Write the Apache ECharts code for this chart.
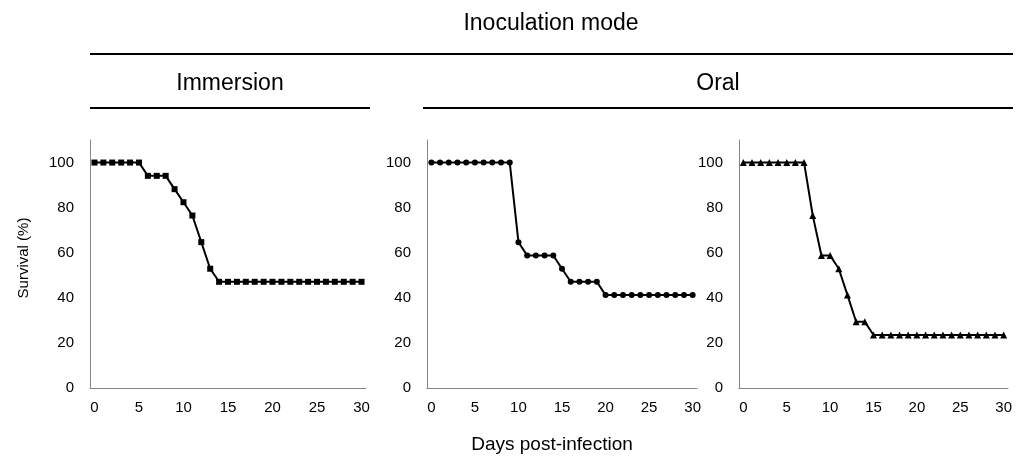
<!DOCTYPE html>
<html>
<head>
<meta charset="utf-8">
<script src="https://cdn.jsdelivr.net/npm/echarts@6/dist/echarts.min.js"></script>
<style>
html,body{margin:0;padding:0;background:#fff;}
#chart{width:1021px;height:461px;}
</style>
</head>
<body>
<div id="chart"></div>
<script>
var days=[];
for(var d=0;d<=30;d++){days.push(String(d));}
var yTicks=[0,20,40,60,80,100];

// survival (%) per day
var immersion=[100,100,100,100,100,100,94.1,94.1,94.1,88.2,82.4,76.5,64.7,52.9,47.1,47.1,47.1,47.1,47.1,47.1,47.1,47.1,47.1,47.1,47.1,47.1,47.1,47.1,47.1,47.1,47.1];
var oralA=[100,100,100,100,100,100,100,100,100,100,64.7,58.8,58.8,58.8,58.8,52.9,47.1,47.1,47.1,47.1,41.2,41.2,41.2,41.2,41.2,41.2,41.2,41.2,41.2,41.2,41.2];
var oralB=[100,100,100,100,100,100,100,100,76.5,58.8,58.8,52.9,41.2,29.4,29.4,23.5,23.5,23.5,23.5,23.5,23.5,23.5,23.5,23.5,23.5,23.5,23.5,23.5,23.5,23.5,23.5];

var fontFam='"Liberation Sans", Arial, sans-serif';
var myChart=echarts.init(document.getElementById('chart'));

var grids=[
    {left:90,top:140,width:276,height:248},
    {left:427,top:140,width:270,height:248},
    {left:739,top:140,width:269,height:248}
];

function xAx(i){
    return {
        type:'category',
        gridIndex:i,
        data:days,
        boundaryGap:true,
        axisLine:{lineStyle:{color:'#868686',width:1}},
        axisTick:{show:false},
        axisLabel:{interval:4,color:'#000',fontSize:15,fontFamily:fontFam,margin:12}
    };
}
function yAx(i){
    return {
        type:'value',
        gridIndex:i,
        min:0,
        max:110,
        interval:20,
        splitLine:{show:false},
        axisLine:{show:true,lineStyle:{color:'#868686',width:1}},
        axisTick:{show:false},
        axisLabel:{color:'#000',fontSize:15,fontFamily:fontFam,margin:16,showMaxLabel:false,
            formatter:function(v){return yTicks.indexOf(v)>=0?String(v):'';}}
    };
}
function ser(i,data,sym,size){
    return {
        type:'line',
        xAxisIndex:i,
        yAxisIndex:i,
        data:data,
        symbol:sym,
        symbolSize:size,
        showAllSymbol:true,
        lineStyle:{color:'#000',width:2},
        itemStyle:{color:'#000'},
        animation:false
    };
}

var option={
    animation:false,
    grid:grids,
    xAxis:[xAx(0),xAx(1),xAx(2)],
    yAxis:[yAx(0),yAx(1),yAx(2)],
    series:[
        ser(0,immersion,'rect',6),
        ser(1,oralA,'circle',6),
        ser(2,oralB,'triangle',7)
    ],
    graphic:[
        {type:'text',x:551,y:24,style:{text:'Inoculation mode',font:'23px '+fontFam,fill:'#000',align:'center',verticalAlign:'middle'}},
        {type:'line',shape:{x1:90,y1:54,x2:1013,y2:54},style:{stroke:'#000',lineWidth:2}},
        {type:'text',x:230,y:84,style:{text:'Immersion',font:'23px '+fontFam,fill:'#000',align:'center',verticalAlign:'middle'}},
        {type:'text',x:718,y:84,style:{text:'Oral',font:'23px '+fontFam,fill:'#000',align:'center',verticalAlign:'middle'}},
        {type:'line',shape:{x1:90,y1:108,x2:370,y2:108},style:{stroke:'#000',lineWidth:2}},
        {type:'line',shape:{x1:423,y1:108,x2:1013,y2:108},style:{stroke:'#000',lineWidth:2}},
        {type:'text',x:24,y:258,rotation:Math.PI/2,style:{text:'Survival (%)',font:'15px '+fontFam,fill:'#000',align:'center',verticalAlign:'middle'}},
        {type:'text',x:552,y:445,style:{text:'Days post-infection',font:'19px '+fontFam,fill:'#000',align:'center',verticalAlign:'middle'}}
    ]
};
myChart.setOption(option);
</script>
</body>
</html>
